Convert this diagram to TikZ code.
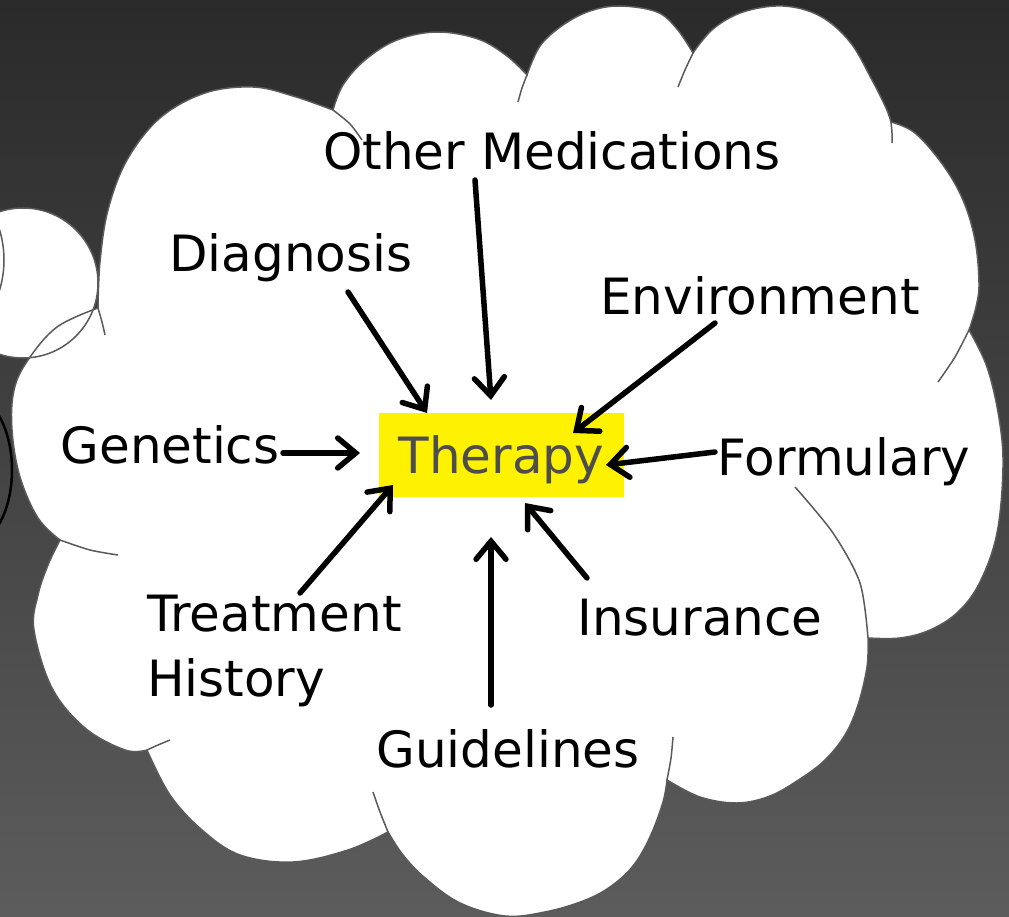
\documentclass[tikz,border=0pt]{standalone}
\usepackage{fontspec}
\setmainfont{DejaVu Sans}
\usetikzlibrary{arrows.meta}
\definecolor{bgtop}{HTML}{2A2A2A}
\definecolor{bgbot}{HTML}{5C5C5C}
\definecolor{cloudgray}{HTML}{5A5A5A}
\definecolor{thergray}{HTML}{4D4D4D}
\begin{document}
\begin{tikzpicture}[x=1pt,y=-1pt,
  lbl/.style={font=\fontsize{50}{65}\selectfont, text=black, inner sep=0pt},
  arr/.style={line width=5.5pt, line cap=round, -{Straight Barb[length=18pt,width=30pt,line cap=round]}},
  cloudline/.style={draw=cloudgray, line width=1.5pt},
]
\useasboundingbox (0,0) rectangle (1009,917);
\shade[top color=bgtop,bottom color=bgbot] (0,0) rectangle (1009,917);

% thought bubble circle (fill)
\fill[white] (23,283) circle [radius=75];

% cloud
\path[fill=white, cloudline, line join=miter]
  plot[smooth, tension=0.6] coordinates {(98,308) (100,262) (108,210) (127,160) (160,118) (205,93) (253,87) (293,96) (333,110)}
  -- plot[smooth, tension=0.6] coordinates {(333,110) (343,85) (365,60) (397,40) (437,32) (478,39) (507,56) (527,75)}
  -- plot[smooth, tension=0.6] coordinates {(527,75) (540,46) (563,25) (590,11) (620,6) (657,12) (677,29) (693,53)}
  -- plot[smooth, tension=0.6] coordinates {(693,53) (713,29) (743,12) (783,6) (820,16) (850,42) (872,80) (886,108) (891,122)}
  -- plot[smooth, tension=0.6] coordinates {(891,122) (915,133) (943,165) (963,200) (975,240) (979,283) (976,307) (969,330)}
  -- plot[smooth, tension=0.6] coordinates {(969,330) (987,367) (999,418) (1003,467) (997,533) (980,582) (958,612) (930,630) (900,638) (868,638)}
  -- plot[smooth, tension=0.6] coordinates {(868,638) (867,667) (858,705) (845,735) (825,760) (800,779) (770,796) (737,803) (700,797) (667,780)}
  -- plot[smooth, tension=0.6] coordinates {(667,780) (663,802) (650,837) (633,866) (610,887) (583,901) (545,912) (505,916) (460,903) (425,878) (403,855) (388,832)}
  -- plot[smooth, tension=0.6] coordinates {(388,832) (348,850) (293,862) (240,855) (202,830) (170,795) (147,750)}
  -- plot[smooth, tension=0.6] coordinates {(147,750) (125,750) (85,728) (52,688) (34,630) (38,595) (48,565) (60,540)}
  -- plot[smooth, tension=0.6] coordinates {(60,540) (38,518) (20,477) (12,430) (14,390) (28,360) (57,327) (98,308)}
  -- cycle;

% interior arcs of the cloud
\draw[cloudline] plot[smooth] coordinates {(333,110) (350,124) (362,140)};
\draw[cloudline] plot[smooth] coordinates {(527,75) (522,88) (518,102)};
\draw[cloudline] plot[smooth] coordinates {(693,53) (685,70) (678,87)};
\draw[cloudline] plot[smooth] coordinates {(891,122) (892,133) (892,143)};
\draw[cloudline] plot[smooth] coordinates {(969,330) (955,357) (938,382)};
\draw[cloudline] plot[smooth] coordinates {(868,638) (860,583) (833,533) (795,487)};
\draw[cloudline] plot[smooth] coordinates {(667,780) (671,758) (673,737)};
\draw[cloudline] plot[smooth] coordinates {(388,832) (380,812) (373,792)};
\draw[cloudline] plot[smooth] coordinates {(147,750) (158,745) (170,740)};
\draw[cloudline] plot[smooth] coordinates {(60,540) (90,550) (118,555)};
\draw[cloudline] plot[smooth] coordinates {(98,308) (102,322) (105,335)};

% thought bubbles outlines
\draw[cloudline] (23,283) circle [radius=75];
\draw[cloudline] (-100,260) circle [radius=104];
\draw[black, line width=2.5pt] (-30,470) ellipse [x radius=42, y radius=75];

% central node
\node[fill=yellow, minimum width=245pt, minimum height=84pt, inner sep=0pt,
      text=thergray, font=\fontsize{50}{60}\selectfont, text height=40pt, text depth=4pt]
  (th) at (501.5,455) {Therapy};

% labels
\node[lbl, anchor=base] (om) at (552,170) {Other Medications};
\node[lbl, anchor=base] (dg) at (291,272) {Diagnosis};
\node[lbl, anchor=base] (en) at (760,315) {Environment};
\node[lbl, anchor=base] (ge) at (170,463) {Genetics};
\node[lbl, anchor=base] (fo) at (844,475) {Formulary};
\node[lbl, anchor=base] (ins) at (700,635) {Insurance};
\node[lbl, anchor=base] (gu) at (508,767) {Guidelines};
\node[lbl, anchor=north west, align=left] (tr) at (147,595) {Treatment\\History};

% arrow end points
\coordinate (omS) at (475,180); \coordinate (omE) at (491,400);
\coordinate (dgS) at (348,292); \coordinate (dgE) at (427,413);
\coordinate (enS) at (715,323); \coordinate (enE) at (573,433);
\coordinate (geS) at (283,453); \coordinate (geE) at (360,453);
\coordinate (foS) at (715,452); \coordinate (foE) at (606,465);
\coordinate (trS) at (300,593); \coordinate (trE) at (393,485);
\coordinate (guS) at (491,705); \coordinate (guE) at (491,537);
\coordinate (inS) at (587,578); \coordinate (inE) at (525,503);

\draw[arr] (omS) -- (omE);
\draw[arr] (dgS) -- (dgE);
\draw[arr] (enS) -- (enE);
\draw[arr] (geS) -- (geE);
\draw[arr] (foS) -- (foE);
\draw[arr] (trS) -- (trE);
\draw[arr] (guS) -- (guE);
\draw[arr] (inS) -- (inE);
\end{tikzpicture}
\end{document}
